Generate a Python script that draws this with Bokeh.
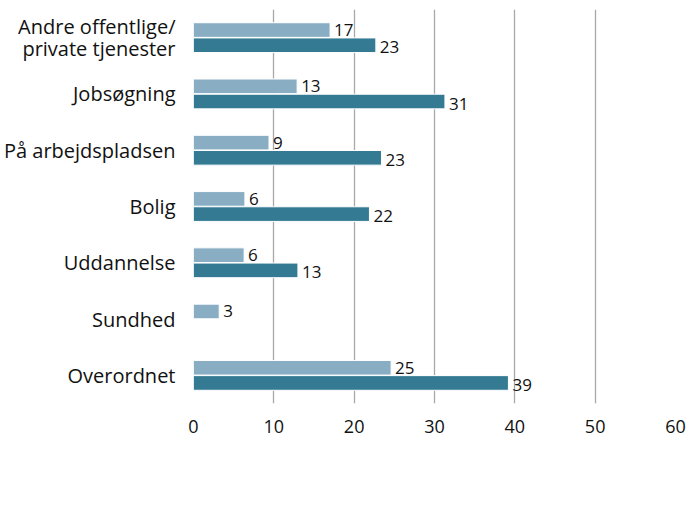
from bokeh.plotting import figure
from bokeh.models import (ColumnDataSource, FactorRange, Legend, LegendItem, FixedTicker,
                          CategoricalAxis)
from bokeh.transform import dodge
from bokeh.core.properties import value
from bokeh.embed import file_html
from bokeh.resources import INLINE

categories = ["Andre offentlige/private tjenester", "Jobsøgning", "På arbejdspladsen",
              "Bolig", "Uddannelse", "Sundhed", "Overordnet"]
series_names = ["Seneste 12 måneder", "Seneste fem år"]
last12 = [17.0, 12.9, 9.4, 6.4, 6.3, 3.2, 24.6]
last12_labels = ["17", "13", "9", "6", "6", "3", "25"]
last5 = [22.7, 31.3, 23.4, 21.9, 13.0, None, 39.2]
last5_labels = ["23", "31", "23", "22", "13", "", "39"]
x_ticks = [0, 10, 20, 30, 40, 50, 60]

FONT = "Open Sans"
C_LIGHT = "#89aec4"
C_DARK = "#337a92"

src1 = ColumnDataSource(dict(cat=categories, v=last12, lab=last12_labels))
c5 = [c for c, v in zip(categories, last5) if v is not None]
v5 = [v for v in last5 if v is not None]
l5 = [l for l, v in zip(last5_labels, last5) if v is not None]
src2 = ColumnDataSource(dict(cat=c5, v=v5, lab=l5))

p = figure(frame_width=482, frame_height=394, output_backend="svg", toolbar_location=None,
           y_range=FactorRange(factors=list(reversed(categories))),
           x_range=(0, 60), min_border_left=190, min_border_right=12,
           min_border_top=9, min_border_bottom=0)
p.outline_line_color = None
p.background_fill_color = "white"

off = 0.135
bh = 0.26
r1 = p.hbar(y=dodge("cat", off, range=p.y_range), right="v", left=0, height=bh,
            source=src1, fill_color=C_LIGHT, line_color="white", line_width=1)
r2 = p.hbar(y=dodge("cat", -off, range=p.y_range), right="v", left=0, height=bh,
            source=src2, fill_color=C_DARK, line_color="white", line_width=1)

p.text(x="v", y=dodge("cat", off, range=p.y_range), text="lab", source=src1,
       x_offset=4, text_baseline="middle", text_align="left",
       text_font=value(FONT), text_font_size="17px", text_color="#111111")
p.text(x="v", y=dodge("cat", -off, range=p.y_range), text="lab", source=src2,
       x_offset=4, y_offset=2, text_baseline="middle", text_align="left",
       text_font=value(FONT), text_font_size="17px", text_color="#111111")

p.xgrid.ticker = FixedTicker(ticks=x_ticks)
p.xgrid.grid_line_color = "#a8a8a8"
p.xgrid.grid_line_width = 1.3
p.ygrid.grid_line_color = None

p.xaxis.ticker = FixedTicker(ticks=x_ticks)
p.xaxis.axis_line_color = None
p.xaxis.major_tick_line_color = None
p.xaxis.minor_tick_line_color = None
p.xaxis.major_label_text_font = FONT
p.xaxis.major_label_text_font_size = "18px"
p.xaxis.major_label_text_color = "#111111"
p.xaxis.major_label_standoff = 10

p.yaxis.visible = False

# label axis: each category band split into 5 sub-slots so a label can sit on two lines;
# unused slots get distinct zero-width blank factors
n = len(categories)
SUB = 5
slots = []
blank = 0
for b in range(n):
    c = categories[n - 1 - b]
    for k in range(SUB):
        if "/" in c and k == 3:
            slots.append(c.split("/", 1)[0] + "/")
        elif "/" in c and k == 1:
            slots.append(c.split("/", 1)[1])
        elif "/" not in c and k == 2:
            slots.append(c)
        else:
            blank += 1
            slots.append("\u200b" * blank)
p.extra_y_ranges = {"lab": FactorRange(factors=slots)}
lab_axis = CategoricalAxis(y_range_name="lab")
lab_axis.axis_line_color = None
lab_axis.major_tick_line_color = None
lab_axis.minor_tick_line_color = None
lab_axis.major_label_text_font = FONT
lab_axis.major_label_text_font_size = "20px"
lab_axis.major_label_text_color = "#111111"
lab_axis.major_label_standoff = 12
p.add_layout(lab_axis, "left")

legend = Legend(items=[LegendItem(label=series_names[0], renderers=[r1]),
                       LegendItem(label=series_names[1], renderers=[r2])],
                orientation="horizontal", location="right",
                glyph_width=16, glyph_height=16, label_standoff=22, spacing=48,
                label_text_font=FONT, label_text_font_size="18px",
                label_text_color="#111111", border_line_color=None,
                background_fill_alpha=0, padding=0, margin=2)
p.add_layout(legend, "below")

open("out.html", "w").write(file_html(p, INLINE))
